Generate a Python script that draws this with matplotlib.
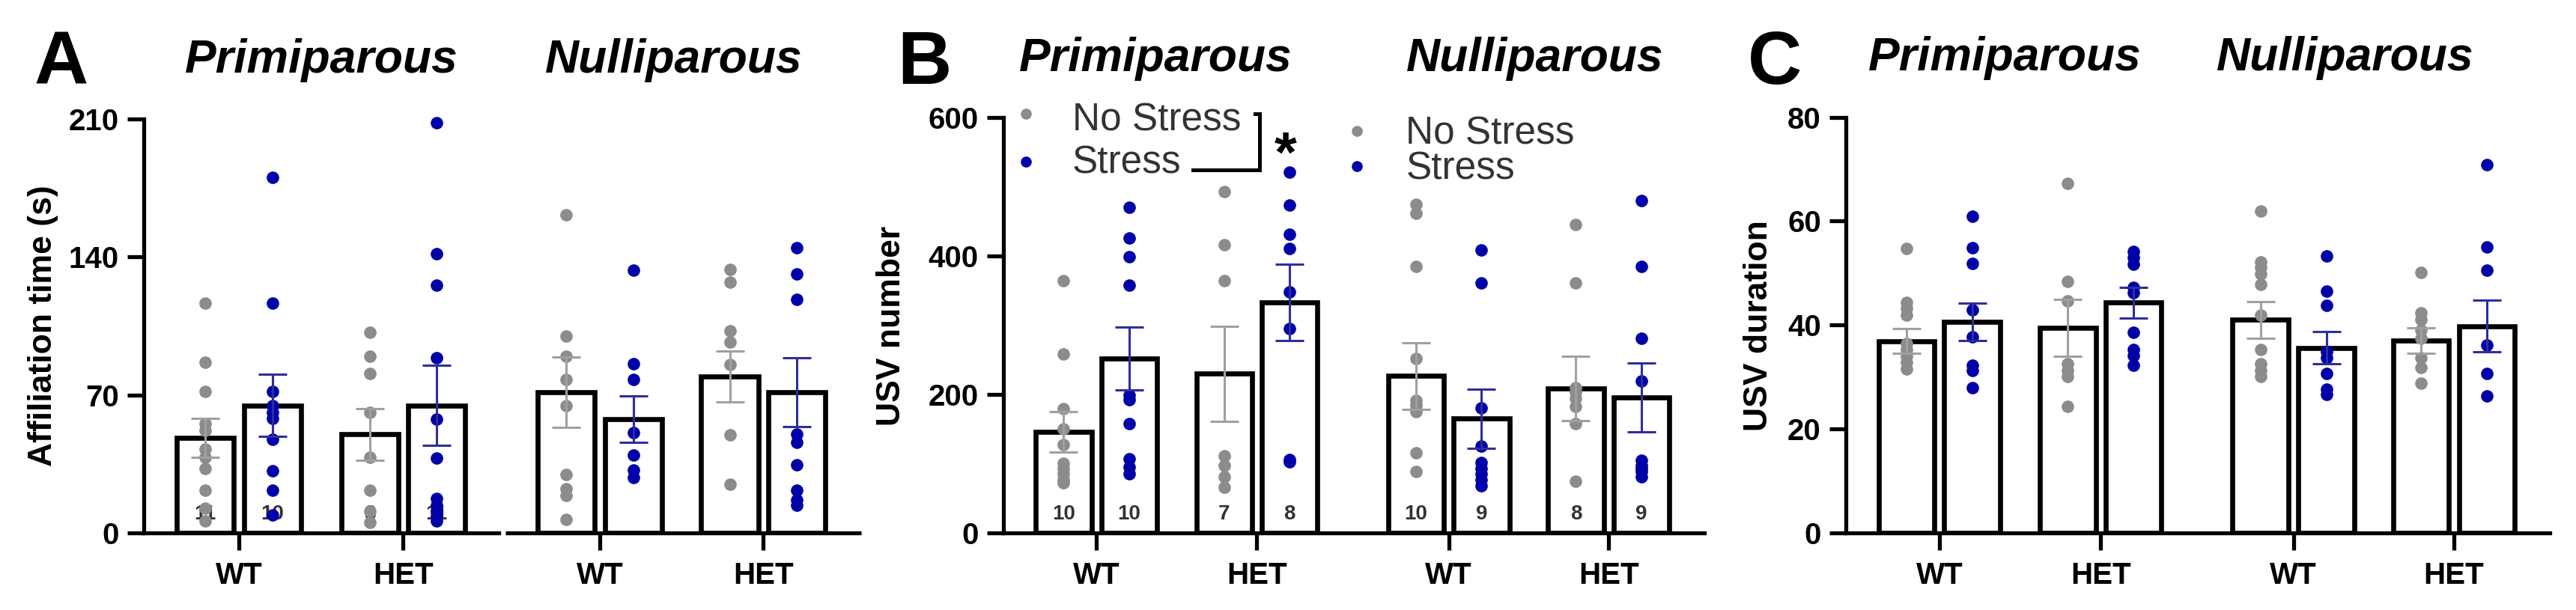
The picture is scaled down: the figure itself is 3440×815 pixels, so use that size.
import numpy as np
import matplotlib
matplotlib.use("Agg")
import matplotlib.pyplot as plt
import matplotlib.transforms as mtransforms

plt.rcParams['font.family'] = ['Liberation Sans', 'DejaVu Sans']
plt.rcParams['font.weight'] = 'bold'

# group order: Primi WT, Primi HET, Nulli WT, Nulli HET; each No Stress / Stress
conditions = ['No Stress', 'Stress'] * 4
genotypes = ['WT', 'HET', 'WT', 'HET']
parity = ['Primiparous', 'Nulliparous']

# Panel A - affiliation time (s)
a_means = [48.3, 64.7, 50.0, 64.7, 71.4, 57.8, 79.4, 71.4]
a_sem = [9.8, 15.9, 13.2, 20.3, 17.9, 11.7, 13.0, 17.5]
a_points = [
    [116.6, 86.7, 71.7, 55.3, 52.0, 42.5, 38.5, 32.5, 21.8, 12.5, 6.0],
    [180.4, 116.6, 71.7, 64.6, 61.0, 58.2, 47.5, 31.5, 21.8, 9.0],
    [101.7, 89.5, 80.7, 61.0, 38.5, 21.8, 11.0, 5.4],
    [208.2, 141.6, 125.6, 88.8, 57.7, 37.8, 17.5, 14.0, 11.0, 8.3, 6.1],
    [161.5, 99.8, 89.5, 77.8, 64.6, 29.7, 22.5, 19.0, 6.8],
    [133.4, 86.0, 77.8, 51.0, 39.6, 31.8, 28.2],
    [133.7, 127.3, 102.4, 96.7, 85.5, 49.6, 24.7],
    [144.7, 131.3, 118.3, 50.3, 46.0, 34.6, 21.8, 16.8, 14.0],
]
a_counts = ['11', '10', '8', '11']

# Panel B - USV number
b_means = [146, 252, 230, 333, 227, 165, 209, 196]
b_sem = [29.6, 45.0, 68.8, 55.0, 48.0, 42.5, 46.4, 50.0]
b_points = [
    [364.5, 258.4, 179.6, 150.0, 127.8, 101.0, 93.0, 85.0, 76.7, 72.7],
    [470.6, 425.7, 399.2, 358.4, 199.2, 193.0, 158.4, 107.3, 95.0, 85.0],
    [493.0, 416.3, 364.5, 111.4, 97.0, 80.8, 66.5],
    [521.6, 473.5, 431.8, 411.4, 348.2, 295.0, 106.0, 103.0],
    [474.7, 462.4, 384.9, 252.2, 191.0, 185.0, 178.8, 175.0, 115.5, 88.9],
    [409.4, 361.2, 180.8, 125.7, 101.2, 93.0, 85.0, 76.7, 68.6],
    [446.0, 361.6, 209.4, 203.0, 195.0, 182.9, 158.4, 74.7],
    [480.8, 384.9, 281.6, 219.6, 105.3, 97.0, 93.0, 89.0, 80.8],
]
b_counts = ['10', '10', '7', '8', '10', '9', '8', '9']

# Panel C - USV duration
c_means = [36.9, 40.6, 39.5, 44.3, 41.0, 35.6, 37.0, 39.8]
c_sem = [2.4, 3.6, 5.5, 3.0, 3.5, 3.1, 2.5, 5.0]
c_points = [
    [54.7, 44.3, 43.2, 41.9, 36.4, 35.3, 34.0, 32.9, 31.5],
    [60.9, 54.9, 51.9, 42.9, 37.7, 32.3, 31.2, 28.0],
    [67.2, 48.4, 44.6, 32.6, 31.2, 30.1, 24.4],
    [54.1, 53.0, 51.7, 47.3, 46.2, 38.6, 35.3, 34.2, 32.3],
    [62.0, 52.2, 51.1, 49.8, 47.8, 41.9, 35.3, 32.6, 31.2, 30.1],
    [53.3, 46.5, 43.8, 34.8, 33.7, 30.7, 27.7, 26.6],
    [50.1, 42.4, 41.0, 39.1, 37.5, 33.7, 31.8, 28.8],
    [70.8, 55.0, 50.6, 36.1, 30.7, 26.3],
]

# styling
bar_pos = np.array([0, 1, 2.45, 3.45, 5.38, 6.38, 7.82, 8.82])
XLIM = (-0.92, 9.78)
dot_col = {'No Stress': '#8c8c8c', 'Stress': '#0000a8'}
err_col = {'No Stress': '#a0a0a0', 'Stress': '#2e2e9c'}
SPINE_LW = 3.8


def draw_panel(ax, means, sems, points, ymax, yticks, title_x, counts=None,
               broken=False):
    ax.bar(bar_pos, means, width=0.85, color='white', edgecolor='black',
           linewidth=4.8, zorder=1)
    for x, cond, pts in zip(bar_pos, conditions, points):
        ax.plot([x] * len(pts), pts, 'o', ms=12, color=dot_col[cond],
                mec='none', zorder=3, clip_on=False)
    for x, m, s, cond in zip(bar_pos, means, sems, conditions):
        ax.errorbar(x, m, yerr=s, fmt='none', ecolor=err_col[cond],
                    elinewidth=2.2, capsize=14, capthick=2.2, zorder=4)
    if counts is not None:
        for x, c in zip(bar_pos, counts):
            ax.text(x, 0.045, c, transform=ax.get_xaxis_transform(),
                    ha='center', va='center', fontsize=20, color='#333333',
                    zorder=2)

    ax.set_xlim(*XLIM)
    ax.set_ylim(0, ymax)
    ax.set_yticks(yticks)
    ax.set_xticks([(bar_pos[i] + bar_pos[i + 1]) / 2 for i in range(0, 8, 2)])
    ax.set_xticklabels(genotypes)
    ax.tick_params(axis='y', length=16, width=SPINE_LW, pad=8, labelsize=29)
    ax.tick_params(axis='x', length=16.5, width=SPINE_LW, pad=11, labelsize=29)
    for side in ['top', 'right']:
        ax.spines[side].set_visible(False)
    for side in ['left', 'bottom']:
        ax.spines[side].set_linewidth(SPINE_LW)

    if broken:
        # gap in the x axis between the two parity groups
        gap = (4.37, 4.47)
        ax.spines['bottom'].set_bounds(XLIM[0], gap[0])
        frac = (gap[1] - XLIM[0]) / (XLIM[1] - XLIM[0])
        ax.axhline(0, xmin=frac, xmax=1, color='black', lw=SPINE_LW,
                   clip_on=False, zorder=5, solid_capstyle='butt')

    trans = mtransforms.blended_transform_factory(ax.transData, ax.transAxes)
    for tx, name in zip(title_x, parity):
        ax.text(tx, 1.112, name, transform=trans, ha='center',
                va='baseline', fontsize=45, style='italic')
    return ax


fig = plt.figure(figsize=(34.4, 8.15), dpi=100)
bottom, height = 0.1264, 0.6785
ax_a = fig.add_axes([0.0558, bottom, 0.2785, height])
ax_b = fig.add_axes([0.3895, bottom, 0.2721, height + 0.002])
ax_c = fig.add_axes([0.7166, bottom, 0.2733, height + 0.003])

draw_panel(ax_a, a_means, a_sem, a_points, 210, [0, 70, 140, 210],
           (1.73, 6.98), counts=a_counts + [''] * 4, broken=True)
draw_panel(ax_b, b_means, b_sem, b_points, 600, [0, 200, 400, 600],
           (1.41, 7.19), counts=b_counts)
draw_panel(ax_c, c_means, c_sem, c_points, 80, [0, 20, 40, 60, 80],
           (1.5, 6.67))

# y labels
ylabel_y = bottom + height / 2
fig.text(58 / 3440, ylabel_y, 'Affiliation time (s)', rotation=90,
         ha='center', va='center', fontsize=32)
fig.text(1190 / 3440, ylabel_y, 'USV number', rotation=90,
         ha='center', va='center', fontsize=32)
fig.text(2348 / 3440, ylabel_y, 'USV duration', rotation=90,
         ha='center', va='center', fontsize=32)

# panel letters
for x, letter in [(46, 'A'), (1198, 'B'), (2334, 'C')]:
    fig.text(x / 3440, 1 - 112 / 815, letter, ha='left', va='baseline',
             fontsize=72)

# legends in panel B
leg_txt = dict(transform=ax_b.transAxes, fontsize=37, fontweight='normal',
               color='#333333', ha='left', va='baseline')
for (dx, y_ns, y_s, tx, b_ns, b_s) in [(0.032, 1.009, 0.894, 0.098, 0.969, 0.866),
                                       (0.504, 0.968, 0.883, 0.574, 0.937, 0.852)]:
    ax_b.plot([dx], [y_ns], 'o', ms=10.5, color=dot_col['No Stress'],
              mec='none', transform=ax_b.transAxes, clip_on=False)
    ax_b.plot([dx], [y_s], 'o', ms=10.5, color=dot_col['Stress'],
              mec='none', transform=ax_b.transAxes, clip_on=False)
    ax_b.text(tx, b_ns, 'No Stress', **leg_txt)
    ax_b.text(tx, b_s, 'Stress', **leg_txt)

# significance bracket between legend entries
ax_b.plot([0.359, 0.366, 0.366, 0.270], [1.009, 1.009, 0.874, 0.874],
          color='black', lw=3.6, transform=ax_b.transAxes, clip_on=False,
          solid_joinstyle='miter')
ax_b.text(0.403, 0.872, '*', transform=ax_b.transAxes, ha='center',
          va='baseline', fontsize=55)

fig.savefig('out.png', dpi=100, facecolor='white')
